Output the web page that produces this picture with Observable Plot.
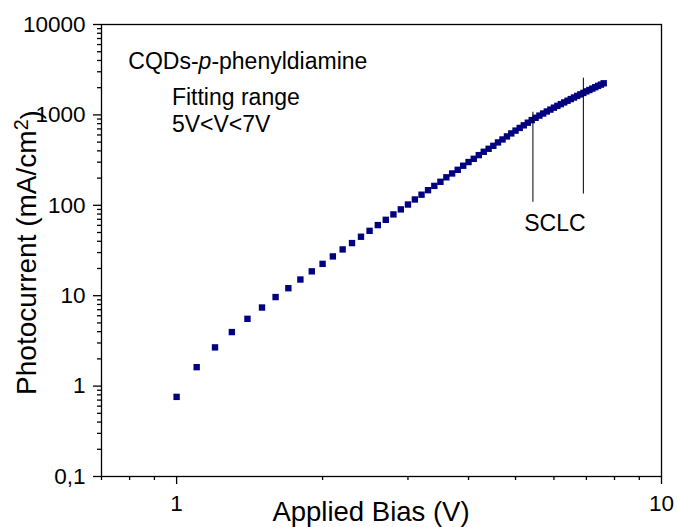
<!DOCTYPE html>
<html>
<head>
<meta charset="utf-8">
<script src="https://cdn.jsdelivr.net/npm/d3@7"></script>
<script src="https://cdn.jsdelivr.net/npm/@observablehq/plot@0.6"></script>
<style>
  html, body { margin: 0; padding: 0; background: #fff; }
  #chart svg { display: block; }
</style>
</head>
<body>
<div id="chart"></div>
<script>
// ---- Data ----
const voltage = [
  1.0, 1.1, 1.2, 1.3, 1.4, 1.5, 1.6, 1.7, 1.8, 1.9,
  2.0, 2.1, 2.2, 2.3, 2.4, 2.5, 2.6, 2.7, 2.8, 2.9,
  3.0, 3.1, 3.2, 3.3, 3.4, 3.5, 3.6, 3.7, 3.8, 3.9,
  4.0, 4.1, 4.2, 4.3, 4.4, 4.5, 4.6, 4.7, 4.8, 4.9,
  5.0, 5.1, 5.2, 5.3, 5.4, 5.5, 5.6, 5.7, 5.8, 5.9,
  6.0, 6.1, 6.2, 6.3, 6.4, 6.5, 6.6, 6.7, 6.8, 6.9,
  7.0, 7.1, 7.2, 7.3, 7.4, 7.5, 7.6
];
const photocurrent = [
  0.76, 1.62, 2.68, 3.96, 5.55, 7.4, 9.66, 12.1, 15.1, 18.6,
  22.5, 27.2, 32.5, 38.2, 44.9, 52.2, 60.4, 69.1, 79.3, 90.1,
  102, 116, 131, 147, 164, 182, 204, 225, 247, 274,
  301, 327, 359, 391, 422, 455, 496, 535, 578, 624,
  670, 718, 767, 820, 876, 929, 982, 1036, 1091, 1145,
  1202, 1259, 1316, 1374, 1435, 1496, 1557, 1622, 1686, 1750,
  1820, 1885, 1954, 2024, 2094, 2163, 2237
];

// Fitting-range marker lines
const fitLineX = [5.43, 6.9];
const fitLineTop = [1070, 2550];
const fitLineBottom = [108, 133];

// Annotations
const noteText = ["CQDs-p-phenyldiamine", "Fitting range", "5V<V<7V", "SCLC"];
const noteX = [0.795, 0.978, 0.978, 5.21];
const noteY = [3890, 1553, 781, 62.6];

// Ticks
const xMajorTicks = [1, 10];
const xMajorLabels = ["1", "10"];
const xMinorTicks = [0.7, 0.8, 0.9, 2, 3, 4, 5, 6, 7, 8, 9];
const yMajorTicks = [0.1, 1, 10, 100, 1000, 10000];
const yMajorLabels = ["0,1", "1", "10", "100", "1000", "10000"];
const yMinorTicks = [];
for (const dec of [0.1, 1, 10, 100, 1000]) for (const m of [2,3,4,5,6,7,8,9]) yMinorTicks.push(+(dec*m).toPrecision(3));

const xTitle = "Applied Bias (V)";
const yTitle = "Photocurrent (mA/cm2)";

// ---- Build tables ----
const points = voltage.map((v, i) => ({v, j: photocurrent[i]}));
const rules = fitLineX.map((x, i) => ({x, y1: fitLineBottom[i], y2: fitLineTop[i]}));
const notes = noteText.map((t, i) => ({t, x: noteX[i], y: noteY[i]}));

const font = "'Liberation Sans', Arial, Helvetica, sans-serif";

const chart = Plot.plot({
  width: 677,
  height: 527,
  marginLeft: 101,
  marginRight: 16,
  marginTop: 24,
  marginBottom: 51,
  style: {fontFamily: font, background: "#fff", color: "#000", overflow: "visible"},
  x: {type: "log", domain: [0.7, 10]},
  y: {type: "log", domain: [0.1, 10000]},
  marks: [
    Plot.axisX(xMinorTicks, {tickSize: 4, tickFormat: () => "", label: null, strokeWidth: 1.3}),
    Plot.axisX(xMajorTicks, {tickSize: 8, tickPadding: 11, fontSize: 22.5,
      tickFormat: d => xMajorLabels[xMajorTicks.indexOf(d)], label: null, strokeWidth: 1.3}),
    Plot.axisY(yMinorTicks, {tickSize: 4, tickFormat: () => "", label: null, strokeWidth: 1.3}),
    Plot.axisY(yMajorTicks, {tickSize: 8, tickPadding: 8, fontSize: 22.5,
      tickFormat: d => yMajorLabels[yMajorTicks.indexOf(d)], label: null, strokeWidth: 1.3}),
    Plot.frame({stroke: "#000", strokeWidth: 1.3}),
    Plot.dot(points, {x: "v", y: "j", symbol: "square", r: 3.6, fill: "#000080", stroke: null}),
    Plot.ruleX(rules, {x: "x", y1: "y1", y2: "y2", stroke: "#000", strokeWidth: 1}),
    Plot.text(notes, {x: "x", y: "y", text: "t", textAnchor: "start", lineAnchor: "middle", fontSize: 23, fill: "#000"}),
    Plot.text([xTitle], {text: d => d, frameAnchor: "bottom", textAnchor: "middle", lineAnchor: "middle", dy: 36, dx: -10.5, fontSize: 27.5, fill: "#000"}),
    Plot.text([yTitle], {text: d => d, frameAnchor: "left", textAnchor: "middle", rotate: -90, lineAnchor: "middle", dx: -74, dy: 2, fontSize: 28, fill: "#000"})
  ]
});

// Rich text: italic "p" and superscript "2"
d3.select(chart).selectAll("text").each(function() {
  const el = d3.select(this);
  const t = this.textContent;
  if (t === noteText[0]) {
    el.text(null);
    el.append("tspan").text("CQDs-");
    el.append("tspan").attr("font-style", "italic").text("p");
    el.append("tspan").text("-phenyldiamine");
  } else if (t === yTitle) {
    el.text(null);
    el.append("tspan").text("Photocurrent (mA/cm");
    el.append("tspan").attr("font-size", "0.7em").attr("dy", "-0.45em").text("2");
    el.append("tspan").attr("dy", "0.45em").text(")");
  }
});

document.getElementById("chart").appendChild(chart);
</script>
</body>
</html>
